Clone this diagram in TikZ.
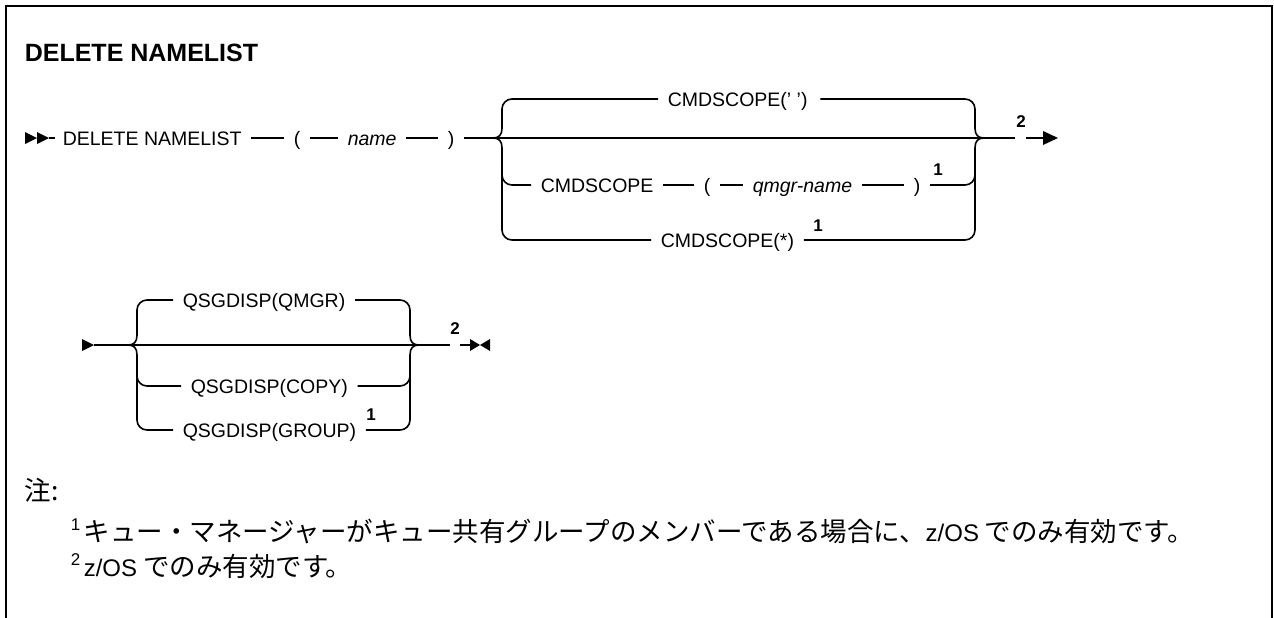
\documentclass[tikz,border=0pt]{standalone}
\usepackage{fontspec}
\setmainfont{Liberation Sans}
\newfontfamily\jpfont{Noto Sans CJK JP}
\begin{document}
\begin{tikzpicture}[x=1pt,y=-1pt,line width=1.6pt,
  tok/.style={inner sep=0pt,anchor=west,font=\fontsize{19.5}{20}\selectfont,text height=14pt,text depth=0pt},
  itok/.style={tok,font=\itshape\fontsize{19.5}{20}\selectfont},
  supn/.style={inner sep=0pt,font=\bfseries\fontsize{17}{17}\selectfont},
  lnA/.style={shorten <=9pt},
  lnB/.style={shorten >=9pt},
  lnAB/.style={shorten <=9pt,shorten >=9pt},
  brc/.style={rounded corners=10pt},
  tip/.style={fill=black,line width=0.4pt},
  note/.style={inner sep=0pt,anchor=base west,font=\jpfont\fontsize{26.5}{26.5}\selectfont},
  nsup/.style={inner sep=0pt,anchor=base west,font=\fontsize{17}{17}\selectfont}]
\useasboundingbox (0,0) rectangle (1274,618);
\fill[white] (0,0) rectangle (1274,618);
% frame
\draw[line width=2pt] (6,618) -- (6,6) -- (1272,6) -- (1272,618);
% title
\node[inner sep=0pt,anchor=base west,font=\bfseries\fontsize{25}{25}\selectfont] (title) at (24,62) {DELETE NAMELIST};

% ---------- line 1 ----------
\coordinate (s1) at (49,138);
\fill[tip] (25,132) -- (37,138) -- (25,144) -- cycle;
\fill[tip] (37,132) -- (49,138) -- (37,144) -- cycle;
\node[tok] (dn) at (62,138) {DELETE NAMELIST};
\node[tok] (lp1) at (293,138) {(};
\node[itok] (nm) at (347,138) {name};
\node[tok] (rp1) at (447,138) {)};
\draw (s1) -- ([xshift=-7pt]dn.west);
\draw[lnAB] (dn.east) -- (lp1.west);
\draw[lnAB] (lp1.east) -- (nm.west);
\draw[lnAB] (nm.east) -- (rp1.west);
\coordinate (L1c) at (493,138);
\coordinate (R1c) at (984,138);
\coordinate (E1) at (1015,138);
\draw[lnA] (rp1.east) -- (L1c) -- (R1c) -- (E1);
% branch nodes
\node[tok] (ct) at (667,99) {CMDSCOPE(' ')};
\node[tok] (c2) at (540,185) {CMDSCOPE};
\node[tok] (lp2) at (703,185) {(};
\node[itok] (qn) at (752,185) {qmgr-name};
\node[tok] (rp2) at (913,185) {)};
\node[supn] (n1a) at (938,170) {1};
\node[tok] (c3) at (660,240) {CMDSCOPE(*)};
\node[supn] (n1b) at (818,226) {1};
\draw[lnAB] (c2.east) -- (lp2.west);
\draw[lnAB] (lp2.east) -- (qn.west);
\draw[lnAB] (qn.east) -- (rp2.west);
% left brace
\draw (L1c) .. controls (499,138) and (502,135) .. (502,128);
\draw (L1c) .. controls (499,138) and (502,141) .. (502,148);
\draw[brc,lnB] (502,128.5) -- (502,99) -- (ct.west);
\draw[brc,lnB] (502,147.5) -- (502,240) -- (c3.west);
\draw[brc,lnB] (502,172) -- (502,185) -- (c2.west);
% right brace
\draw (R1c) .. controls (978,138) and (975,135) .. (975,128);
\draw (R1c) .. controls (978,138) and (975,141) .. (975,148);
\draw[brc,shorten <=12pt] (ct.east) -- (975,99) -- (975,128.5);
\draw[brc,shorten <=9pt] (c3.east) -- (975,240) -- (975,147.5);
\draw[brc,shorten <=9pt] (rp2.east) -- (975,185) -- (975,172);
% end of line 1
\node[supn] (n2a) at (1021,122) {2};
\coordinate (E1b) at (1026,138);
\coordinate (T1) at (1044,138);
\draw (E1b) -- (T1);
\fill[tip] (1043,131) -- (1058,138) -- (1043,145) -- cycle;

% ---------- line 2 ----------
\fill[tip] (82,339) -- (94,345) -- (82,351) -- cycle;
\coordinate (s2) at (94,345);
\coordinate (L2c) at (128,345);
\coordinate (R2c) at (419,345);
\coordinate (E2) at (450,345);
\draw (s2) -- (L2c) -- (R2c) -- (E2);
\node[tok] (q1) at (182,300) {QSGDISP(QMGR)};
\node[tok] (q2) at (190,386) {QSGDISP(COPY)};
\node[tok] (q3) at (182,430) {QSGDISP(GROUP)};
\node[supn] (n1c) at (371,415) {1};
% left brace
\draw (L2c) .. controls (134,345) and (137,342) .. (137,335);
\draw (L2c) .. controls (134,345) and (137,348) .. (137,355);
\draw[brc,lnB] (137,335.5) -- (137,300) -- (q1.west);
\draw[brc,lnB] (137,354.5) -- (137,430) -- (q3.west);
\draw[brc,lnB] (137,375) -- (137,386) -- (q2.west);
% right brace
\draw (R2c) .. controls (413,345) and (410,342) .. (410,335);
\draw (R2c) .. controls (413,345) and (410,348) .. (410,355);
\draw[brc,lnA] (q1.east) -- (410,300) -- (410,335.5);
\draw[brc,lnA] (q3.east) -- (410,430) -- (410,354.5);
\draw[brc,lnA] (q2.east) -- (410,386) -- (410,375);
\node[supn] (n2b) at (455,329) {2};
\coordinate (E2b) at (460,345);
\coordinate (T2) at (471,345);
\draw (E2b) -- (T2);
\fill[tip] (470,339) -- (480,345) -- (470,351) -- cycle;
\fill[tip] (490,339) -- (480,345) -- (490,351) -- cycle;

% ---------- notes ----------
\node[note] (chu) at (24,500) {注:};
\node[nsup] (f1s) at (70,530) {1};
\node[note] (f1) at (83,541) {キュー・マネージャーがキュー共有グループのメンバーである場合に、{\fontspec{Liberation Sans}\fontsize{24}{24}\selectfont z/OS} でのみ有効です。};
\node[nsup] (f2s) at (70,565) {2};
\node[note] (f2) at (83,576) {{\fontspec{Liberation Sans}\fontsize{24}{24}\selectfont z/OS} でのみ有効です。};
\end{tikzpicture}
\end{document}
